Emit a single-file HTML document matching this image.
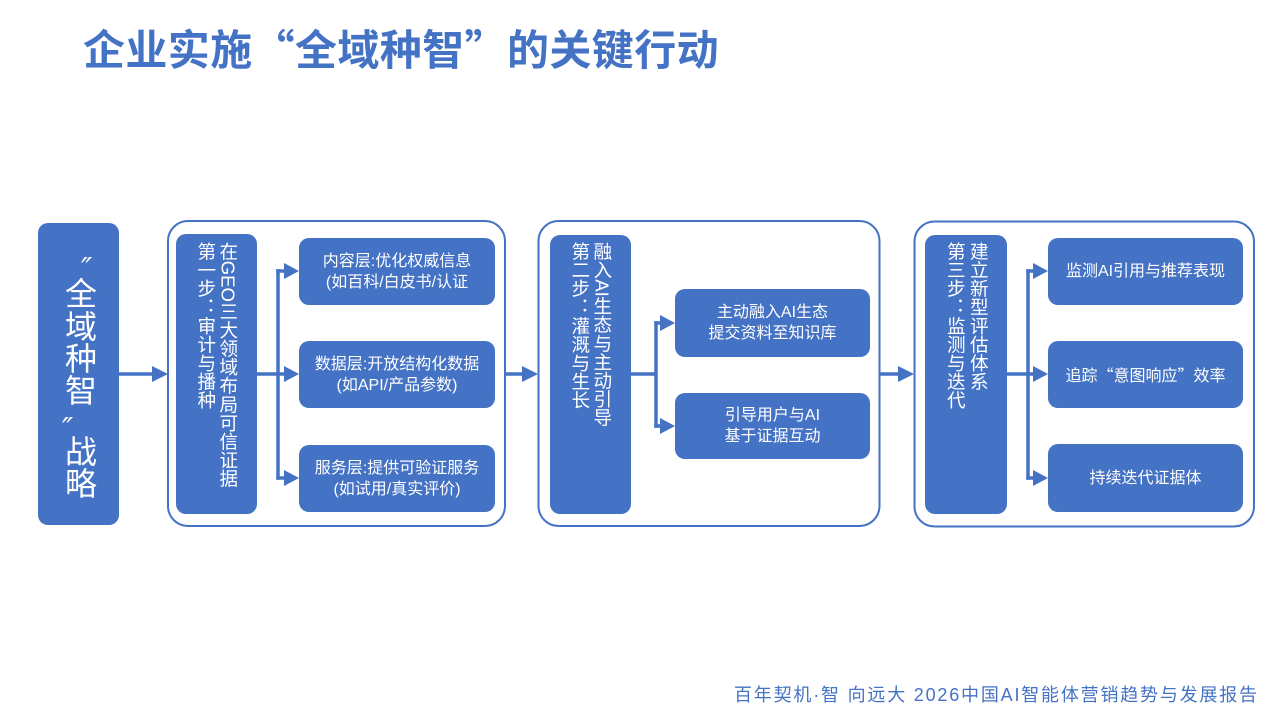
<!DOCTYPE html>
<html lang="zh-CN">
<head>
<meta charset="utf-8">
<style>
  html, body { margin: 0; padding: 0; }
  body {
    width: 1280px; height: 720px; position: relative; overflow: hidden;
    background: #ffffff;
    font-family: "Liberation Sans", "Noto Sans CJK SC", sans-serif;
  }
  .abs { position: absolute; }
  .cjk { font-family: "Noto Sans CJK SC", "Liberation Sans", sans-serif; }
  .title {
    left: 83px; top: 27px; height: 42px; line-height: 42px;
    font-size: 42px; font-weight: bold; color: #4472c4; white-space: nowrap;
    letter-spacing: 0.4px;
    font-family: "Noto Sans CJK SC", "Liberation Sans", sans-serif;
  }
  .footer {
    left: 734px; top: 686px; line-height: 18px; font-size: 18px;
    color: #4472c4; white-space: nowrap; letter-spacing: 1.8px;
  }
  .fill { background: #4472c4; }
  .sub {
    position: absolute; background: #4472c4; border-radius: 10px;
    color: #fff; font-size: 16px; line-height: 21px; text-align: center;
    display: flex; align-items: center; justify-content: center; white-space: nowrap;
  }
  .vcol {
    position: absolute; writing-mode: vertical-rl; text-orientation: mixed;
    font-size: 18.6px; line-height: 18.6px; width: 18.6px; color: #fff; white-space: nowrap;
  }
  .bigc {
    position: absolute; width: 32px; height: 32px; line-height: 32px;
    font-size: 32px; color: #fff; text-align: center;
  }
  .q {
    position: absolute; color: #fff; font-size: 30px; line-height: 30px;
    font-family: "DejaVu Sans", "Liberation Sans", sans-serif; font-style: italic;
  }
</style>
</head>
<body>

<div class="abs title">企业实施“全域种智”的关键行动</div>

<svg class="abs" style="left:0;top:0" width="1280" height="720" viewBox="0 0 1280 720">
  <!-- outer containers -->
  <rect x="168" y="221" width="337" height="305" rx="20" ry="20" fill="#fff" stroke="#4472c4" stroke-width="2"/>
  <rect x="538.5" y="221" width="341" height="305" rx="20" ry="20" fill="#fff" stroke="#4472c4" stroke-width="2"/>
  <rect x="914.5" y="221.5" width="339.5" height="305" rx="20" ry="20" fill="#fff" stroke="#4472c4" stroke-width="2"/>

  <g stroke="#4472c4" stroke-width="3.5" fill="none">
    <!-- main arrows -->
    <line x1="119" y1="374" x2="154" y2="374"/>
    <line x1="505" y1="374" x2="525" y2="374"/>
    <line x1="880" y1="374" x2="900" y2="374"/>
    <!-- branch 1 -->
    <line x1="257" y1="374" x2="278" y2="374"/>
    <line x1="278" y1="269.25" x2="278" y2="479.75"/>
    <line x1="276.25" y1="271" x2="286" y2="271"/>
    <line x1="278" y1="374" x2="286" y2="374"/>
    <line x1="276.25" y1="478" x2="286" y2="478"/>
    <!-- branch 2 -->
    <line x1="631" y1="374" x2="656" y2="374"/>
    <line x1="656" y1="321.25" x2="656" y2="427.75"/>
    <line x1="654.25" y1="323" x2="662" y2="323"/>
    <line x1="654.25" y1="426" x2="662" y2="426"/>
    <!-- branch 3 -->
    <line x1="1007" y1="374" x2="1028" y2="374"/>
    <line x1="1028" y1="269.25" x2="1028" y2="479.75"/>
    <line x1="1026.25" y1="271" x2="1035" y2="271"/>
    <line x1="1028" y1="374" x2="1035" y2="374"/>
    <line x1="1026.25" y1="478" x2="1035" y2="478"/>
  </g>
  <g fill="#4472c4">
    <polygon points="152,366 168,374 152,382"/>
    <polygon points="522,366 538,374 522,382"/>
    <polygon points="898,366 914,374 898,382"/>

    <polygon points="284,263 299,271 284,279"/>
    <polygon points="284,366 299,374 284,382"/>
    <polygon points="284,470 299,478 284,486"/>

    <polygon points="660,315 675,323 660,331"/>
    <polygon points="660,418 675,426 660,434"/>

    <polygon points="1033,263 1048,271 1033,279"/>
    <polygon points="1033,366 1048,374 1033,382"/>
    <polygon points="1033,470 1048,478 1033,486"/>
  </g>
</svg>

<!-- left strategy box -->
<div class="abs fill" style="left:38px;top:223px;width:81px;height:302px;border-radius:10px;"></div>
<div class="q" style="left:81px;top:255px;">″</div>
<div class="bigc" style="left:65px;top:278px;">全</div>
<div class="bigc" style="left:65px;top:311px;">域</div>
<div class="bigc" style="left:65px;top:343px;">种</div>
<div class="bigc" style="left:65px;top:375px;">智</div>
<div class="q" style="left:62px;top:415px;">″</div>
<div class="bigc" style="left:65px;top:436px;">战</div>
<div class="bigc" style="left:65px;top:468px;">略</div>

<!-- step 1 -->
<div class="abs fill" style="left:176px;top:234px;width:81px;height:280px;border-radius:10px;"></div>
<div class="vcol" style="left:217.7px;top:242px;">在GEO三大领域布局可信证据</div>
<div class="vcol" style="left:195.7px;top:242px;">第一步：审计与播种</div>

<div class="sub" style="left:299px;top:238px;width:196px;height:67px;">内容层:优化权威信息<br>(如百科/白皮书/认证</div>
<div class="sub" style="left:299px;top:341px;width:196px;height:67px;">数据层:开放结构化数据<br>(如API/产品参数)</div>
<div class="sub" style="left:299px;top:445px;width:196px;height:67px;">服务层:提供可验证服务<br>(如试用/真实评价)</div>

<!-- step 2 -->
<div class="abs fill" style="left:550px;top:235px;width:81px;height:279px;border-radius:10px;"></div>
<div class="vcol" style="left:591.7px;top:242px;">融入AI生态与主动引导</div>
<div class="vcol" style="left:569.7px;top:242px;">第二步：灌溉与生长</div>

<div class="sub" style="left:675px;top:289px;width:195px;height:68px;">主动融入AI生态<br>提交资料至知识库</div>
<div class="sub" style="left:675px;top:393px;width:195px;height:66px;">引导用户与AI<br>基于证据互动</div>

<!-- step 3 -->
<div class="abs fill" style="left:925px;top:235px;width:82px;height:279px;border-radius:10px;"></div>
<div class="vcol" style="left:968.2px;top:242px;">建立新型评估体系</div>
<div class="vcol" style="left:945.2px;top:242px;">第三步：监测与迭代</div>

<div class="sub" style="left:1048px;top:238px;width:195px;height:67px;">监测AI引用与推荐表现</div>
<div class="sub cjk" style="left:1048px;top:341px;width:195px;height:67px;">追踪“意图响应”效率</div>
<div class="sub" style="left:1048px;top:444px;width:195px;height:68px;">持续迭代证据体</div>

<div class="abs footer">百年契机·智 向远大 2026中国AI智能体营销趋势与发展报告</div>

</body>
</html>
